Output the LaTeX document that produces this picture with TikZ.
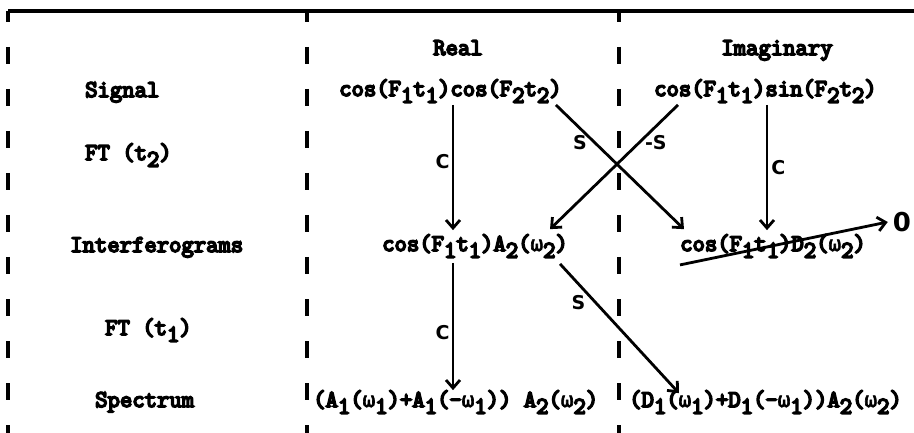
\documentclass[tikz,border=0pt]{standalone}
\usepackage{fontspec}
\usetikzlibrary{arrows.meta}
\newfontfamily\tw{Latin Modern Mono}[FakeBold=7]
\newfontfamily\gk{DejaVu Sans Mono}[Scale=0.87, FakeBold=3]
\newfontfamily\lbl{DejaVu Sans}[BoldFont={DejaVu Sans Bold}]
\newcommand{\lo}[1]{\raisebox{-0.28em}{#1}}
\newcommand{\om}{\makebox[0.525em]{\gk ω}}
\tikzset{
  tt/.style={font=\fontsize{24}{28}\selectfont\tw, inner sep=2pt, anchor=base west},
  hd/.style={font=\fontsize{24}{28}\selectfont\tw, inner sep=2pt, anchor=base},
  lab/.style={font=\fontsize{19}{22}\selectfont\lbl\bfseries, inner sep=1pt},
  arr/.style={line width=2.8pt, -{Straight Barb[length=8pt,width=14pt,line width=2.8pt]}},
  dsh/.style={line width=3.8pt, dash pattern=on 17pt off 25pt, dash phase=6pt},
}
\begin{document}
\begin{tikzpicture}[x=1pt,y=-1pt]
\useasboundingbox (0,0) rectangle (914,433);
\fill[white] (0,0) rectangle (914,433);
% frame
\coordinate (tl) at (8,11);
\coordinate (tr) at (914,11);
\coordinate (m1t) at (307,11);
\coordinate (m2t) at (619,11);
\coordinate (lb) at (8,433);
\coordinate (m1b) at (307,433);
\coordinate (m2b) at (619,433);
\draw[line width=3.2pt] (tl) -- (tr);
\draw[dsh] (tl) -- (lb);
\draw[dsh] (m1t) -- (m1b);
\draw[dsh] (m2t) -- (m2b);
% headers
\node[hd] (hreal) at (458,55) {Real};
\node[hd] (himag) at (777,55) {Imaginary};
% row labels
\node[tt] (l1) at (83,97) {Signal};
\node[tt] (l2) at (83,160) {FT (t\lo{2})};
\node[tt] (l3) at (68,252) {Interferograms};
\node[tt] (l4) at (103,335) {FT (t\lo{1})};
\node[tt] (l5) at (93,407) {Spectrum};
% formulas
\node[tt] (rs) at (337,96) {cos(F\lo{1}t\lo{1})cos(F\lo{2}t\lo{2})};
\node[tt] (is) at (652,96) {cos(F\lo{1}t\lo{1})sin(F\lo{2}t\lo{2})};
\node[tt] (ri) at (380,251) {cos(F\lo{1}t\lo{1})A\lo{2}(\om\lo{2})};
\node[tt] (ii) at (678,251) {cos(F\lo{1}t\lo{1})D\lo{2}(\om\lo{2})};
\node[tt] (rp) at (311,407) {(A\lo{1}(\om\lo{1})+A\lo{1}(-\om\lo{1})) A\lo{2}(\om\lo{2})};
\node[tt] (ip) at (627,407) {(D\lo{1}(\om\lo{1})+D\lo{1}(-\om\lo{1}))A\lo{2}(\om\lo{2})};
\node[font=\fontsize{26}{30}\selectfont\lbl\bfseries, inner sep=1pt] (zero) at (902,222) {0};
% vertical arrows
\coordinate (cR) at (453,0);
\coordinate (cI) at (767,0);
\draw[arr] (rs.south -| cR) -- ([yshift=2pt]ri.north -| cR) node[lab, pos=0.45, left=1pt] {C};
\draw[arr] (is.south -| cI) -- ([yshift=2pt]ii.north -| cI) node[lab, pos=0.5, right=2pt] {C};
\draw[arr] ([yshift=-3pt]ri.south -| cR) -- ([yshift=-2pt]rp.north -| cR) node[lab, pos=0.55, left=1pt] {C};
% crossing arrows
\draw[arr] ([xshift=-8pt]rs.south east) -- ([xshift=6pt,yshift=3pt]ii.north west) node[lab, pos=0.3, left=5pt] {S};
\draw[arr] ([xshift=26pt]is.south west) -- ([xshift=-20pt,yshift=3pt]ri.north east) node[lab, pos=0.3, right=3pt] {-S};
\draw[arr] ([xshift=-10pt,yshift=-4pt]ri.south east) -- ([xshift=52pt,yshift=-5pt]ip.north west) node[lab, pos=0.3, left=8pt] {S};
% strike to zero
\draw[arr] ([xshift=2pt,yshift=-5pt]ii.south west) -- ([xshift=-4pt]zero.west);
\end{tikzpicture}
\end{document}
